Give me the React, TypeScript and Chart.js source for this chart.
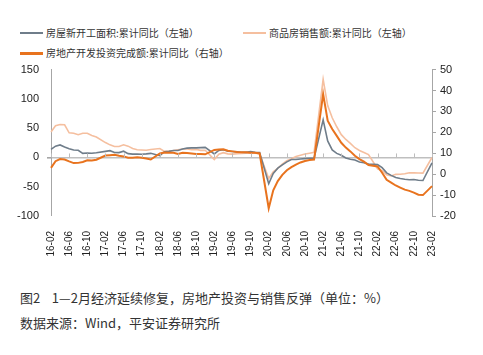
import React, { useEffect, useRef } from "react";
import { Chart, registerables } from "chart.js";

Chart.register(...registerables);

const years = [16, 17, 18, 19, 20, 21, 22, 23];

// Monthly cumulative YoY (%), Feb..Dec per year (Jan not published)
const newStarts: number[][] = [
  [13.7, 19.2, 21.4, 18.0, 14.9, 12.7, 12.2, 6.9, 7.6, 7.2, 8.1],
  [10.4, 11.6, 8.5, 8.2, 10.6, 6.5, 5.7, 5.6, 5.4, 6.1, 7.0],
  [2.9, 9.7, 10.4, 11.8, 11.8, 14.4, 15.9, 16.4, 16.3, 16.8, 17.2],
  [6.0, 11.9, 13.1, 10.5, 10.1, 9.5, 8.9, 8.6, 10.0, 8.6, 8.5],
  [-44.9, -27.2, -18.4, -12.8, -7.6, -3.6, -3.6, -2.7, -2.0, -1.3, -1.2],
  [64.3, 28.2, 12.8, 6.9, 3.8, -0.9, -3.2, -4.5, -7.7, -9.1, -11.4],
  [-12.2, -17.5, -26.3, -30.6, -34.4, -36.1, -37.2, -38.0, -37.8, -38.9, -39.4],
  [-9.4],
];

const salesValue: number[][] = [
  [43.6, 54.1, 56.2, 55.7, 42.1, 41.3, 38.7, 41.3, 41.2, 37.5, 34.8],
  [25.4, 21.5, 18.6, 18.6, 21.5, 19.3, 15.3, 13.0, 12.6, 12.2, 13.7],
  [15.3, 10.4, 10.8, 11.8, 13.2, 14.5, 14.5, 13.3, 13.7, 12.1, 12.2],
  [-3.6, 5.6, 8.1, 6.1, 5.6, 6.2, 6.7, 7.1, 7.3, 7.3, 6.5],
  [-35.9, -24.7, -18.6, -11.6, -5.4, -2.1, 1.6, 3.7, 5.8, 7.2, 8.7],
  [133.4, 88.5, 67.7, 52.4, 38.9, 30.7, 24.0, 16.6, 11.8, 8.5, 4.8],
  [-19.3, -22.7, -29.5, -31.5, -28.9, -28.8, -27.9, -26.3, -26.1, -26.6, -26.7],
  [-0.1],
];

const investment: number[][] = [
  [3.0, 6.2, 7.2, 7.0, 6.1, 5.3, 5.4, 5.8, 6.6, 6.5, 6.9],
  [8.9, 9.1, 9.3, 8.8, 8.5, 7.9, 7.9, 8.1, 7.8, 7.5, 7.0],
  [9.9, 10.4, 10.3, 10.2, 9.7, 10.2, 10.1, 9.9, 9.7, 9.7, 9.5],
  [11.6, 11.8, 11.9, 11.2, 10.9, 10.6, 10.5, 10.5, 10.3, 10.2, 9.9],
  [-16.3, -7.7, -3.3, -0.3, 1.9, 3.4, 4.6, 5.6, 6.3, 6.8, 7.0],
  [38.3, 25.6, 21.6, 18.3, 15.0, 12.7, 10.9, 8.8, 7.2, 6.0, 4.4],
  [3.7, 0.7, -2.7, -4.0, -5.4, -6.4, -7.4, -8.0, -8.8, -9.8, -10.0],
  [-5.7],
];

const legendNames = [
  "房屋新开工面积:累计同比（左轴）",
  "商品房销售额:累计同比（左轴）",
  "房地产开发投资完成额:累计同比（右轴）",
];
const colors = ["#6f7d8a", "#f5bf9f", "#e8731e"];

const leftTicks = [150, 100, 50, 0, -50, -100];
const rightTicks = [50, 40, 30, 20, 10, 0, -10, -20];

// build monthly categories 16-02 .. 23-02 with January gaps (null)
const labels: string[] = [];
function flatten(src: number[][]): (number | null)[] {
  const out: (number | null)[] = [];
  years.forEach((y, i) => {
    const months = i === years.length - 1 ? [2] : [2, 3, 4, 5, 6, 7, 8, 9, 10, 11, 12];
    months.forEach((m, j) => out.push(src[i][j]));
    if (i < years.length - 1) out.push(null); // next January
  });
  return out;
}
years.forEach((y, i) => {
  const months = i === years.length - 1 ? [2] : [2, 3, 4, 5, 6, 7, 8, 9, 10, 11, 12];
  months.forEach((m) => labels.push(`${y}-${String(m).padStart(2, "0")}`));
  if (i < years.length - 1) labels.push(`${years[i + 1]}-01`);
});

const FONT = "'Liberation Sans', Arial, sans-serif";
const CJK = "'Noto Sans CJK SC', sans-serif";

const zeroTicks = {
  id: "zeroTicks",
  afterDatasetsDraw(chart: any) {
    const x = chart.scales.x;
    const y = chart.scales.y;
    const ctx = chart.ctx;
    const y0 = y.getPixelForValue(0);
    ctx.save();
    ctx.strokeStyle = "#bdbdbd";
    ctx.lineWidth = 1;
    labels.forEach((l, i) => {
      if ((i % 4) !== 0) return;
      const px = Math.round(x.getPixelForValue(i)) + 0.5;
      ctx.beginPath();
      ctx.moveTo(px, y0);
      ctx.lineTo(px, y0 - 4);
      ctx.stroke();
    });
    ctx.restore();
  },
};

export default function App() {
  const ref = useRef<HTMLCanvasElement>(null);
  useEffect(() => {
    if (!ref.current) return;
    const chart = new Chart(ref.current, {
      type: "line",
      data: {
        labels,
        datasets: [
          {
            label: legendNames[0],
            data: flatten(newStarts),
            borderColor: colors[0],
            borderWidth: 1.6,
            yAxisID: "y",
            order: 2,
          },
          {
            label: legendNames[1],
            data: flatten(salesValue),
            borderColor: colors[1],
            borderWidth: 1.6,
            yAxisID: "y",
            order: 3,
          },
          {
            label: legendNames[2],
            data: flatten(investment),
            borderColor: colors[2],
            borderWidth: 2,
            yAxisID: "y2",
            order: 1,
          },
        ],
      },
      options: {
        animation: false,
        responsive: false,
        spanGaps: true,
        elements: { point: { radius: 0 }, line: { tension: 0 } },
        layout: { padding: { top: 10, left: 0, right: 0, bottom: 0 } },
        plugins: { legend: { display: false }, tooltip: { enabled: false } },
        scales: {
          x: {
            offset: false,
            grid: { display: false },
            border: { display: false },
            ticks: {
              autoSkip: false,
              maxRotation: 90,
              minRotation: 90,
              padding: 7,
              color: "#222",
              font: { family: FONT, size: 10 },
              callback: (v: any, i: number) => (i % 4 === 0 ? labels[i] : null),
            },
            afterFit: (s: any) => {
              s.height = 54;
            },
          },
          y: {
            position: "left",
            min: -100,
            max: 150,
            afterBuildTicks: (s: any) => {
              s.ticks = leftTicks.map((v) => ({ value: v }));
            },
            border: { display: true, color: "#a6a6a6", width: 1 },
            grid: {
              drawOnChartArea: true,
              drawTicks: true,
              tickLength: 4,
              tickColor: "#a6a6a6",
              color: (c: any) => (c.tick && c.tick.value === 0 ? "#bfbfbf" : "rgba(0,0,0,0)"),
              lineWidth: (c: any) => (c.tick && c.tick.value === 0 ? 1.6 : 0),
            },
            ticks: {
              padding: 8,
              color: "#222",
              font: { family: FONT, size: 11 },
            },
            afterFit: (s: any) => {
              s.width = 51;
            },
          },
          y2: {
            position: "right",
            min: -20,
            max: 50,
            afterBuildTicks: (s: any) => {
              s.ticks = rightTicks.map((v) => ({ value: v }));
            },
            border: { display: true, color: "#a6a6a6", width: 1 },
            grid: {
              drawOnChartArea: false,
              drawTicks: true,
              tickLength: 4,
              tickColor: "#a6a6a6",
            },
            ticks: {
              padding: 4,
              color: "#222",
              font: { family: FONT, size: 11 },
            },
            afterFit: (s: any) => {
              s.width = 51;
            },
          },
        },
      },
      plugins: [zeroTicks],
    });
    return () => chart.destroy();
  }, []);

  const legendItem = (i: number, left: number, top: number) => (
    <div
      key={i}
      style={{
        position: "absolute",
        left,
        top,
        display: "flex",
        alignItems: "center",
        fontFamily: CJK,
        fontSize: 10,
        color: "#333",
        whiteSpace: "nowrap",
        lineHeight: "12px",
      }}
    >
      <span
        style={{
          display: "inline-block",
          width: 23,
          height: i === 2 ? 3 : 2,
          background: colors[i],
          marginRight: 3,
        }}
      />
      {legendNames[i]}
    </div>
  );

  return (
    <div
      style={{
        position: "absolute",
        left: 0,
        top: 0,
        width: 483,
        height: 355,
        background: "#fff",
        overflow: "hidden",
      }}
    >
      {legendItem(0, 20, 27)}
      {legendItem(1, 243, 27)}
      {legendItem(2, 20, 47)}
      <canvas
        ref={ref}
        width={483}
        height={215}
        style={{ position: "absolute", left: 0, top: 55, width: 483, height: 215 }}
      />
      <div
        style={{
          position: "absolute",
          left: 20,
          top: 289,
          fontFamily: CJK,
          fontSize: 13,
          color: "#333",
          whiteSpace: "nowrap",
          lineHeight: "17px",
        }}
      >
        图2&nbsp;&nbsp;&nbsp;&nbsp;1—2月经济延续修复，房地产投资与销售反弹（单位：%）
      </div>
      <div
        style={{
          position: "absolute",
          left: 20,
          top: 314,
          fontFamily: CJK,
          fontSize: 13,
          color: "#333",
          whiteSpace: "nowrap",
          lineHeight: "17px",
        }}
      >
        数据来源：Wind，平安证券研究所
      </div>
    </div>
  );
}
